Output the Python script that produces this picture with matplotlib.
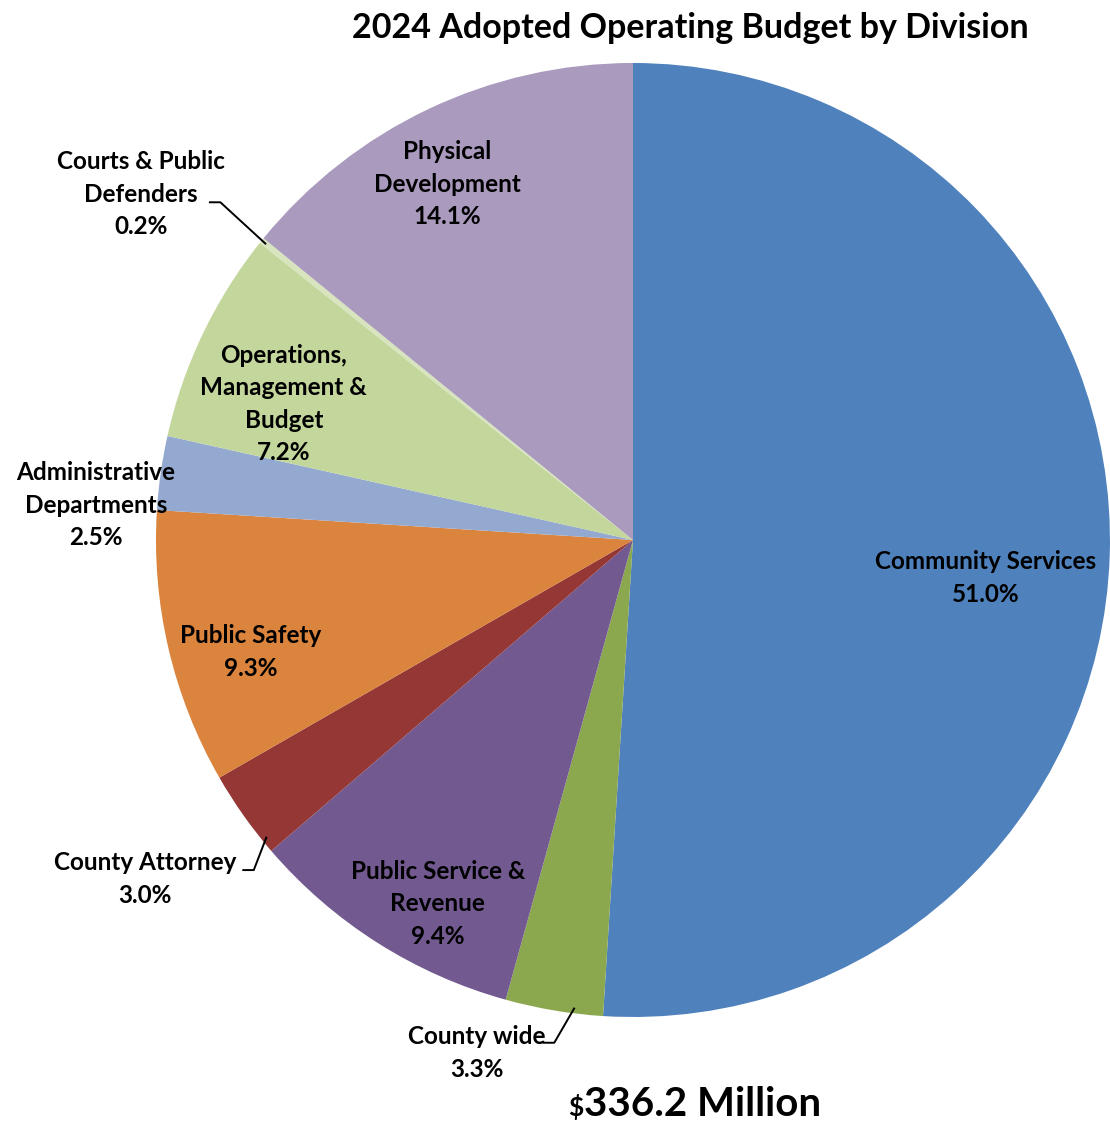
import numpy as np
import matplotlib.pyplot as plt

# Budget share by division, clockwise from 12 o'clock
divisions = ["Community Services", "County wide", "Public Service &\nRevenue",
             "County Attorney", "Public Safety", "Administrative\nDepartments",
             "Operations,\nManagement &\nBudget", "Courts & Public\nDefenders",
             "Physical\nDevelopment"]
shares = [51.0, 3.3, 9.4, 3.0, 9.3, 2.5, 7.2, 0.2, 14.1]
colors = ["#4F81BD", "#8BA84F", "#725990", "#943735", "#DB843D",
          "#94A9D0", "#C3D69B", "#D7E4BD", "#A99ABE"]
total_label = "336.2 Million"

# label centres (data units)
label_pos = [(0.740, -0.080), (-0.327, -1.075), (-0.409, -0.763),
             (-1.023, -0.711), (-0.801, -0.235), (-1.126, 0.073),
             (-0.732, 0.285), (-1.031, 0.725), (-0.390, 0.746)]
# leader elbow point and where along the wedge arc the line ends (0..1)
leaders = {1: ((-0.165, -1.054), 0.3),
           3: ((-0.795, -0.692), 0.15),
           7: ((-0.865, 0.708), 0.5)}

FONT = "Lato"

fig = plt.figure(figsize=(11.10, 11.23), dpi=100)
ax = fig.add_axes([0.1405, 0.0944, 0.8595, 0.8495])
wedges, _ = ax.pie(shares, colors=colors, startangle=90, counterclock=False,
                   radius=1.0, wedgeprops=dict(linewidth=0))
ax.set_xlim(-1, 1)
ax.set_ylim(-1, 1)
ax.set_aspect("equal")
ax.axis("off")

for i, (name, val) in enumerate(zip(divisions, shares)):
    x, y = label_pos[i]
    ax.text(x, y, f"{name}\n{val:.1f}%", ha="center", va="center",
            fontsize=17.5, fontweight="bold", family=FONT,
            linespacing=1.5, clip_on=False)
    if i in leaders:
        (lx, ly), frac = leaders[i]
        w = wedges[i]
        # wedges run clockwise, so theta2 is the leading edge
        ang = np.deg2rad(w.theta2 + frac * (w.theta1 - w.theta2))
        ex, ey = 0.99 * np.cos(ang), 0.99 * np.sin(ang)
        ax.plot([lx - 0.022, lx, ex], [ly, ly, ey], color="black",
                lw=1.4, clip_on=False)

fig.text(0.622, 0.975, "2024 Adopted Operating Budget by Division",
         ha="center", va="center", fontsize=24.5, fontweight="bold",
         family=FONT)
fig.text(0.526, 0.006, total_label, ha="left", va="baseline",
         fontsize=29, fontweight="bold", family=FONT)
fig.text(0.526, 0.006, "$", ha="right", va="baseline",
         fontsize=19, fontweight="bold", family=FONT)

fig.savefig("out.png", dpi=100)
